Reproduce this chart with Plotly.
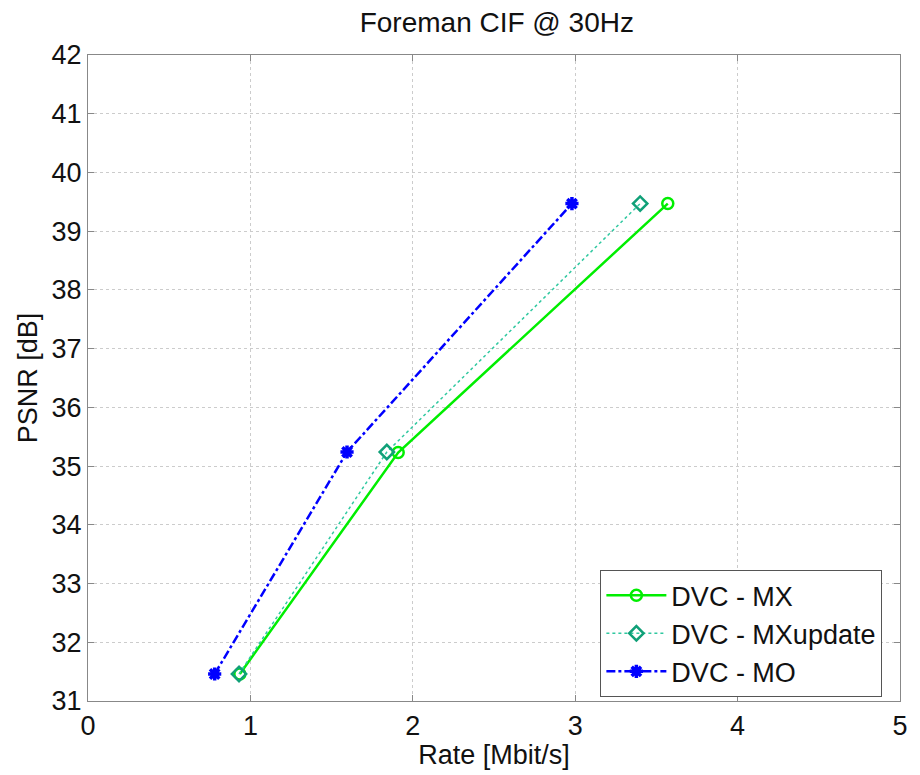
import plotly.graph_objects as go

# Rate-distortion points, Foreman CIF @ 30 Hz
mx_rate = [0.935, 1.91, 3.57]
mx_psnr = [31.46, 35.23, 39.47]

mxu_rate = [0.93, 1.84, 3.40]
mxu_psnr = [31.46, 35.24, 39.47]

mo_rate = [0.78, 1.595, 2.98]
mo_psnr = [31.46, 35.24, 39.47]

x_ticks = [0, 1, 2, 3, 4, 5]
y_ticks = list(range(31, 43))

FONT = "Liberation Sans, Arial, sans-serif"
TXT = "#111111"

fig = go.Figure()
fig.add_trace(go.Scatter(
    x=mx_rate, y=mx_psnr, name="DVC - MX", mode="lines+markers",
    line=dict(color="#00ee00", width=2.5),
    marker=dict(symbol="circle-open", size=11, color="#00ee00", line=dict(width=2.5)),
))
fig.add_trace(go.Scatter(
    x=mxu_rate, y=mxu_psnr, name="DVC - MXupdate", mode="lines+markers",
    line=dict(color="#30c8a0", width=1.5, dash="dot"),
    marker=dict(symbol="diamond-open", size=11, color="#10a078", line=dict(width=2.5)),
))
fig.add_trace(go.Scatter(
    x=mo_rate, y=mo_psnr, name="DVC - MO", mode="lines+markers",
    line=dict(color="#0000ff", width=2.5, dash="dashdot"),
    marker=dict(symbol="asterisk-open", size=11, color="#0000ff", line=dict(width=3.5)),
))

axis_common = dict(
    showline=True, mirror="ticks", linecolor="#888888", linewidth=1.2,
    ticks="inside", ticklen=6, tickcolor="#888888",
    showgrid=True, gridcolor="#cccccc", griddash="dot", gridwidth=1,
    zeroline=False, tickfont=dict(family=FONT, size=27, color=TXT),
)

fig.update_layout(
    width=920, height=775,
    margin=dict(l=88, r=14, t=55, b=72),
    paper_bgcolor="white", plot_bgcolor="white",
    title=dict(text="Foreman CIF @ 30Hz", x=0.54, xanchor="center", y=0.972, yanchor="middle",
               font=dict(family=FONT, size=28, color=TXT)),
    xaxis=dict(range=[0, 5], tickvals=x_ticks,
               title=dict(text="Rate [Mbit/s]", font=dict(family=FONT, size=27, color=TXT), standoff=4),
               **axis_common),
    yaxis=dict(range=[31, 42], tickvals=y_ticks,
               title=dict(text="PSNR [dB]", font=dict(family=FONT, size=27, color=TXT), standoff=6),
               **axis_common),
    legend=dict(x=0.631, y=0.006, xanchor="left", yanchor="bottom",
                bgcolor="white", bordercolor="#555555", borderwidth=1,
                font=dict(family=FONT, size=27, color=TXT),
                itemwidth=60, tracegroupgap=0),
    showlegend=True,
)

fig.write_html("out.html")
